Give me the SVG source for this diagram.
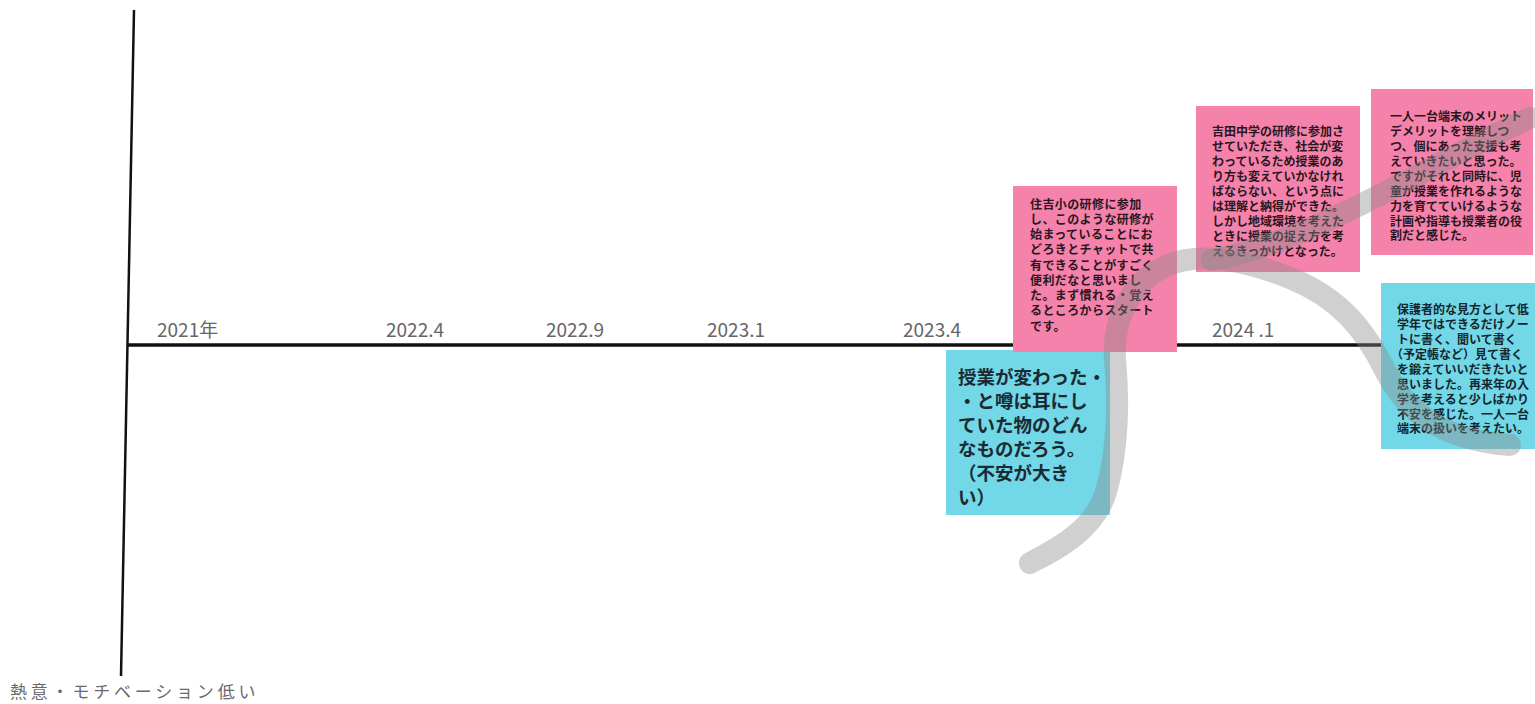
<svg xmlns="http://www.w3.org/2000/svg" width="1535" height="704" viewBox="0 0 1535 704">
<style>
.axis{stroke:#111;fill:none}
.date{font-family:"Noto Sans CJK JP","Noto Sans",sans-serif;font-size:19px;fill:#666}
.pink{fill:#f582aa}
.cyan{fill:#72d7e6}
.nt{font-family:"Noto Sans CJK JP",sans-serif;font-weight:bold;font-size:12px;fill:#2a1620}
.ct{font-family:"Noto Sans CJK JP",sans-serif;font-weight:bold;font-size:12px;fill:#12262e}
.big{font-family:"Noto Sans CJK JP",sans-serif;font-weight:bold;font-size:18.5px;fill:#1a2a33}
.stroke{fill:none;stroke:#8a8a8a;stroke-opacity:0.4;stroke-width:22;stroke-linecap:round;stroke-linejoin:round}
.low{font-family:"Noto Sans CJK JP",sans-serif;font-size:17px;fill:#6a6a6a;letter-spacing:3.8px}
</style>
<rect width="1535" height="704" fill="#fff"/>
<g id="axes">
<line class="axis" x1="134" y1="10" x2="121" y2="676" stroke-width="2.5"/>
<line class="axis" x1="128" y1="345" x2="1535" y2="345" stroke-width="3.5"/>
</g>
<g id="labels">
<text class="date" x="157" y="337">2021年</text>
<text class="date" x="386" y="337">2022.4</text>
<text class="date" x="546" y="337">2022.9</text>
<text class="date" x="707" y="337">2023.1</text>
<text class="date" x="903" y="337">2023.4</text>
<text class="date" x="1212" y="337">2024 .1</text>
<text class="low" x="10" y="698">熱意・モチベーション低い</text>
</g>
<g id="note-cyan1">
<rect class="cyan" x="946" y="350" width="164" height="165"/>
<text class="big" x="958">
<tspan x="958" y="384">授業が変わった・</tspan>
<tspan x="958" y="408">・と噂は耳にし</tspan>
<tspan x="958" y="432">ていた物のどん</tspan>
<tspan x="958" y="456">なものだろう。</tspan>
<tspan x="958" y="480">（不安が大き</tspan>
<tspan x="958" y="504">い）</tspan>
</text>
</g>
<g id="note-pink1">
<rect class="pink" x="1013" y="186" width="164" height="166"/>
<text class="nt" style="letter-spacing:0.4px" x="1030">
<tspan x="1030" y="209">住吉小の研修に参加</tspan>
<tspan x="1030" y="224">し、このような研修が</tspan>
<tspan x="1030" y="239">始まっていることにお</tspan>
<tspan x="1030" y="254">どろきとチャットで共</tspan>
<tspan x="1030" y="270">有できることがすごく</tspan>
<tspan x="1030" y="285">便利だなと思いまし</tspan>
<tspan x="1030" y="300">た。まず慣れる・覚え</tspan>
<tspan x="1030" y="315">るところからスタート</tspan>
<tspan x="1030" y="331">です。</tspan>
</text>
</g>
<g id="note-pink2">
<rect class="pink" x="1196" y="106" width="164" height="166"/>
<text class="nt" x="1212">
<tspan x="1212" y="136">吉田中学の研修に参加さ</tspan>
<tspan x="1212" y="151">せていただき、社会が変</tspan>
<tspan x="1212" y="166">わっているため授業のあ</tspan>
<tspan x="1212" y="181">り方も変えていかなけれ</tspan>
<tspan x="1212" y="196">ばならない、という点に</tspan>
<tspan x="1212" y="211">は理解と納得ができた。</tspan>
<tspan x="1212" y="226">しかし地域環境を考えた</tspan>
<tspan x="1212" y="241">ときに授業の捉え方を考</tspan>
<tspan x="1212" y="256">えるきっかけとなった。</tspan>
</text>
</g>
<g id="note-pink3">
<rect class="pink" x="1371" y="89" width="162" height="166"/>
<text class="nt" x="1390">
<tspan x="1390" y="121">一人一台端末のメリット</tspan>
<tspan x="1390" y="136">デメリットを理解しつ</tspan>
<tspan x="1390" y="151">つ、個にあった支援も考</tspan>
<tspan x="1390" y="166">えていきたいと思った。</tspan>
<tspan x="1390" y="181">ですがそれと同時に、児</tspan>
<tspan x="1390" y="196">童が授業を作れるような</tspan>
<tspan x="1390" y="211">力を育てていけるような</tspan>
<tspan x="1390" y="226">計画や指導も授業者の役</tspan>
<tspan x="1390" y="240">割だと感じた。</tspan>
</text>
</g>
<g id="note-cyan2">
<rect class="cyan" x="1381" y="283" width="154" height="166"/>
<text class="ct" x="1397">
<tspan x="1397" y="314">保護者的な見方として低</tspan>
<tspan x="1397" y="329">学年ではできるだけノー</tspan>
<tspan x="1397" y="344">トに書く、聞いて書く</tspan>
<tspan x="1391" y="359">（予定帳など）見て書く</tspan>
<tspan x="1397" y="374">を鍛えていいだきたいと</tspan>
<tspan x="1397" y="389">思いました。再来年の入</tspan>
<tspan x="1397" y="404">学を考えると少しばかり</tspan>
<tspan x="1397" y="419">不安を感じた。一人一台</tspan>
<tspan x="1397" y="433">端末の扱いを考えたい。</tspan>
</text>
</g>
<g id="connectors">
<path class="stroke" d="M1030,563 C1060,548 1095,528 1106,492 C1118,450 1119,400 1115,360 C1112,320 1130,282 1168,265 C1200,252 1245,260 1290,278 C1340,298 1365,330 1385,370 C1405,410 1440,440 1510,445"/>
<path class="stroke" d="M1212,260 C1265,250 1320,225 1370,200 C1420,175 1480,140 1530,118"/>
</g>
</svg>
